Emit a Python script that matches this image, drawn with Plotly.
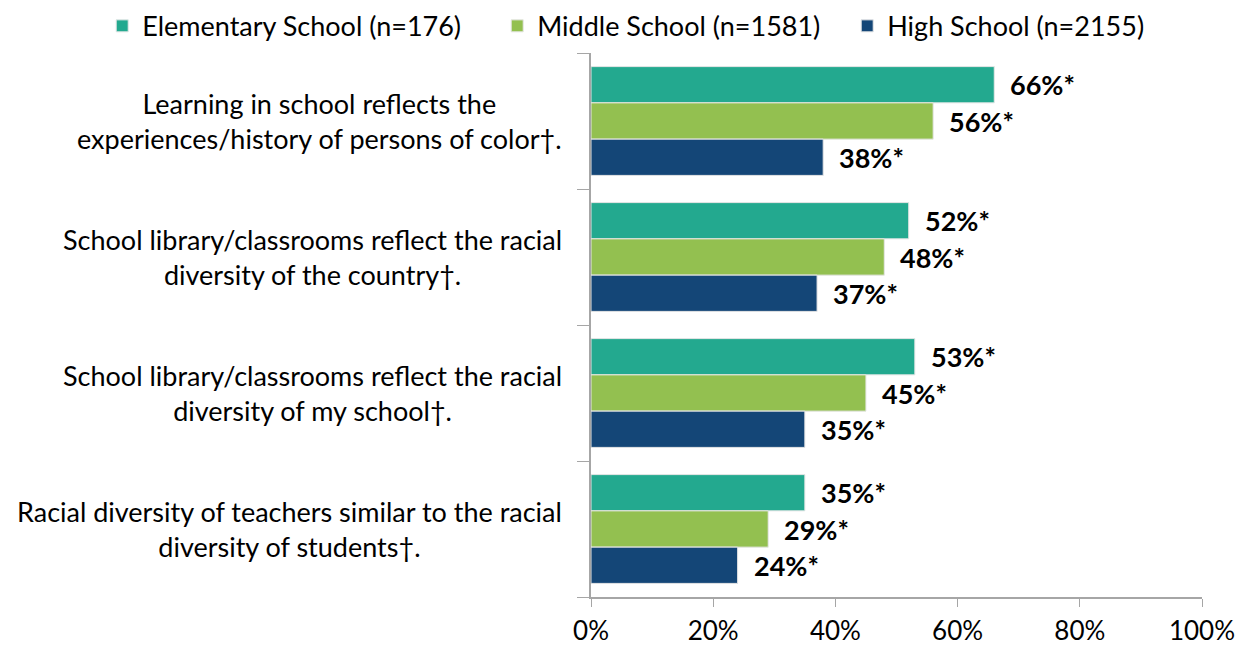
import plotly.graph_objects as go

# Survey items (y categories) and share agreeing, by school level
items = [
    "Learning in school reflects the<br>experiences/history of persons of color†.",
    "School library/classrooms reflect the racial<br>diversity of the country†.",
    "School library/classrooms reflect the racial<br>diversity of my school†.",
    "Racial diversity of teachers similar to the racial<br>diversity of students†.",
]
series_names = ["Elementary School (n=176)", "Middle School (n=1581)", "High School (n=2155)"]
elementary = [66, 52, 53, 35]
middle = [56, 48, 45, 29]
high = [38, 37, 35, 24]
colors = ["#23A98F", "#93C050", "#144677"]
legend_widths = [350, 305, None]
x_ticks = [0, 20, 40, 60, 80, 100]

FONT = "Lato"
FS = 27
cats = list(range(len(items)))

fig = go.Figure()
all_series = [elementary, middle, high]
for name, vals, col, lw in zip(series_names, all_series, colors, legend_widths):
    fig.add_trace(go.Bar(
        y=cats, x=vals, name=name, orientation="h",
        marker=dict(color=col, line=dict(color="#E6E6E6", width=1)),
        legendwidth=lw,
    ))

# value labels next to each bar
bar_w = 0.8 / 3
for k, vals in enumerate(all_series):
    off = (k - 1) * bar_w
    for i, v in enumerate(vals):
        fig.add_annotation(
            x=v, y=i + off, xref="x", yref="y", text=f"<b>{v}%*</b>",
            showarrow=False, xanchor="left", yanchor="middle", xshift=14,
            font=dict(family=FONT, size=FS, color="#000000"),
        )

# category labels, centred text blocks right-aligned to the axis
for i, lab in enumerate(items):
    fig.add_annotation(
        x=-0.045, y=i, xref="paper", yref="y", text=lab, showarrow=False,
        xanchor="right", yanchor="middle", align="center",
        font=dict(family=FONT, size=FS, color="#000000"),
    )

fig.update_layout(
    width=1247, height=648,
    margin=dict(l=591, r=45, t=53, b=51, autoexpand=False),
    barmode="group", bargap=0.2, bargroupgap=0,
    plot_bgcolor="white", paper_bgcolor="white",
    font=dict(family=FONT, size=FS, color="#000000"),
    legend=dict(
        orientation="h", x=-0.80, xref="paper", xanchor="left",
        y=1.004, yref="paper", yanchor="bottom",
        font=dict(family=FONT, size=FS), itemwidth=30,
        traceorder="normal",
    ),
    xaxis=dict(
        range=[0, 100], tickvals=x_ticks, ticktext=[f"{t}%" for t in x_ticks],
        showgrid=False, zeroline=False, showline=True, linecolor="#A6A6A6",
        linewidth=1.5, ticks="outside", ticklen=8, tickcolor="#A6A6A6",
        tickfont=dict(family=FONT, size=26), ticklabelstandoff=2,
    ),
    yaxis=dict(
        type="category", tickvals=cats, ticktext=[""] * len(cats),
        autorange="reversed", tickson="boundaries",
        showgrid=False, showline=True, linecolor="#A6A6A6", linewidth=1.5,
        ticks="outside", ticklen=12, tickcolor="#A6A6A6",
    ),
)

fig.write_html("out.html")
